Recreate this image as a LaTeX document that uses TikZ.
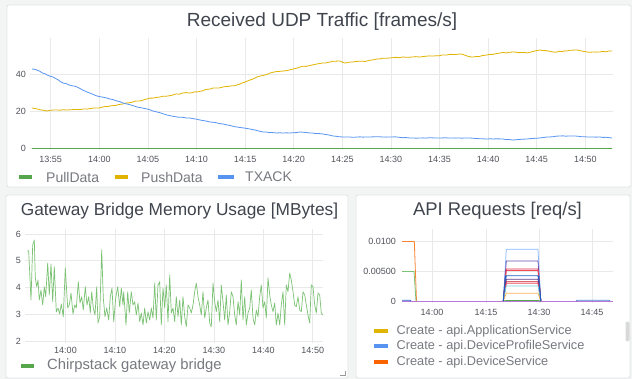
\documentclass[tikz,border=0pt]{standalone}
\usepackage{fontspec}
\setmainfont{Liberation Sans}
\usetikzlibrary{decorations.pathmorphing}
\definecolor{bgc}{HTML}{F3F4F4}
\definecolor{panelc}{HTML}{E2E3E4}
\definecolor{gridc}{HTML}{E9E9E9}
\definecolor{titlec}{HTML}{3F444D}
\definecolor{tickc}{HTML}{50535A}
\definecolor{legc}{HTML}{777A80}
\definecolor{gfgreen}{HTML}{56A64B}
\definecolor{gflgreen}{HTML}{7CC274}
\definecolor{gfyellow}{HTML}{E0B400}
\definecolor{gfblue}{HTML}{5794F2}
\definecolor{gforange}{HTML}{FA6400}
\definecolor{gfpurple}{HTML}{B877D9}
\definecolor{lblue}{HTML}{8AB8FF}
\definecolor{dpurple}{HTML}{6A4DB0}
\definecolor{gfred}{HTML}{E02F44}
\definecolor{navy}{HTML}{1F60C4}
\definecolor{ddpurple}{HTML}{5C3C8E}
\definecolor{dred}{HTML}{C4162A}
\definecolor{pinkc}{HTML}{F2495C}
\definecolor{cyanc}{HTML}{73D3E6}
\definecolor{peach}{HTML}{FFB357}
\tikzset{
  panel/.style={draw=panelc, fill=white, line width=0.8pt, rounded corners=2pt},
  grid/.style={draw=gridc, line width=0.7pt},
  ptitle/.style={text=titlec, inner sep=0pt},
  tick/.style={text=tickc, font=\fontsize{9}{10}\selectfont, inner sep=0pt},
  legtext/.style={text=legc, inner sep=0pt, anchor=west},
  swatch/.style={line width=4pt},
  series/.style={line width=0.8pt, line join=round},
}
\begin{document}
\begin{tikzpicture}[x=1pt, y=-1pt]
\fill[bgc] (0,0) rectangle (632,379);
\useasboundingbox (0,0) rectangle (632,379);
% panels
\path[panel] (7,5) rectangle (631,187);
\path[panel] (6,195) rectangle (348,378);
\path[panel] (356,195) rectangle (630,378);

% ===== Top chart =====
\node[ptitle, font=\fontsize{19}{20}\selectfont] (udptitle) at (322,22) {Received UDP Traffic [frames/s]};
\foreach \i in {0,...,11} {\draw[grid] ({50.7+48.6*\i},38) -- ({50.7+48.6*\i},150);}
\foreach \yy in {74,111.5,148.5} {\draw[grid] (30,\yy) -- (613,\yy);}
\node[tick, anchor=east] (u40) at (26,74) {40};
\node[tick, anchor=east] (u20) at (26,111.5) {20};
\node[tick, anchor=east] (u0) at (26,148.5) {0};
\foreach \lab [count=\i from 0] in {13:55,14:00,14:05,14:10,14:15,14:20,14:25,14:30,14:35,14:40,14:45,14:50}
  {\node[tick] (ux\i) at ({50.7+48.6*\i},159) {\lab};}
% series
\draw[series, gfgreen] (32,148.3) -- (612,148.3);
\pgfmathsetseed{7}
\draw[series, gfyellow, decorate, decoration={random steps, segment length=3pt, amplitude=0.45pt}]
  plot coordinates {(32,108) (37,109) (42,110) (47,111) (57,110) (67,110) (77,109.5) (87,109) (99,108) (110,106) (123,104) (133,102) (147,99) (160,97) (173,95) (183,93) (197,92) (210,89) (223,87) (237,85) (245,82) (257,77) (270,73) (283,71) (293,69) (300,67) (317,64) (330,62) (340,61) (345,63) (353,62) (367,61) (377,59) (390,58) (403,57) (413,57) (420,57) (433,56) (447,55) (460,54) (467,56) (473,57) (487,55) (500,53) (513,52) (527,53) (540,50) (553,52) (567,51) (577,50) (587,52) (600,52) (612,51)};
\draw[series, gfblue, decorate, decoration={random steps, segment length=3pt, amplitude=0.25pt}]
  plot coordinates {(32,69) (37,70) (47,75) (53,77) (63,83) (77,87) (87,92) (97,96) (107,98) (117,101) (127,104) (137,107) (147,109) (157,112) (167,115) (177,117) (190,118) (200,120) (210,122) (223,124) (237,127) (250,129) (263,132) (277,133) (290,133) (300,132) (310,133) (323,134) (333,136) (343,137) (357,137) (370,137) (383,137) (397,137) (410,138) (420,138) (437,138) (453,138) (470,138) (487,139) (503,139) (513,140) (527,139) (540,138) (547,137) (560,136) (573,136) (587,137) (600,137) (612,138)};
% legend
\draw[swatch, gfgreen] (19,177) -- (32,177);
\node[legtext, font=\fontsize{14}{15}\selectfont] (lpull) at (46,177) {PullData};
\draw[swatch, gfyellow] (115,177) -- (128,177);
\node[legtext, font=\fontsize{14}{15}\selectfont] (lpush) at (141,177) {PushData};
\draw[swatch, gfblue] (218,177) -- (234,177);
\node[legtext, font=\fontsize{14}{15}\selectfont] (ltx) at (245,177) {TXACK};

% ===== Memory chart =====
\node[ptitle, font=\fontsize{17.3}{18}\selectfont] (memtitle) at (179.5,211) {Gateway Bridge Memory Usage [MBytes]};
\foreach \i in {0,...,5} {\draw[grid] ({65.5+49.45*\i},229) -- ({65.5+49.45*\i},343);}
\foreach \v in {2,...,6} {\draw[grid] (25,{341-(\v-2)*26.75}) -- (323,{341-(\v-2)*26.75});}
\foreach \v in {2,...,6} {\node[tick, anchor=east] (m\v) at (21,{341-(\v-2)*26.75}) {\v};}
\foreach \lab [count=\i from 0] in {14:00,14:10,14:20,14:30,14:40,14:50}
  {\node[tick] (mx\i) at ({65.5+49.45*\i},350) {\lab};}
\draw[line width=0.7pt, gflgreen, line join=round] plot coordinates {
(27.7,250) (28.7,251.7) (31,300) (32.7,245) (34.3,240) (35.3,278) (36.7,286.7) (38,280) (39.3,300) (41,290) (42.7,305) (44.3,286.7) (45.7,296.7) (47.7,263) (49.3,295) (51,264) (52.7,301.7) (54.3,266.7) (56.3,312) (58,308) (59.7,314) (61.3,304) (63.3,316.7) (65.3,267.7) (67.7,308) (69.3,305) (71,293) (73,314) (74.7,305) (76.3,308) (78.3,281.7) (80,303) (81.7,296.7) (83.3,310) (85.3,286.7) (87,305) (88.7,296.7) (90.3,313) (91.7,291.7) (93.3,308) (95,315) (96.7,286.7) (98,323) (99.7,316.7) (101.7,250) (103.3,298) (105,316.7) (106.7,308) (108.7,320) (110.3,296.7) (112,288) (113.7,321.7) (115.7,298) (117.7,286.7) (119.7,306.7) (121.3,288) (123,305)
(123.7,291.7) (126,325) (127.7,291.7) (129.3,313) (131.3,291.7) (133,305) (134.7,301.7) (136.3,315) (138,303) (139.7,321.7) (141.3,313) (143,325) (144.7,308) (146.3,323) (148,311.7) (149.7,320) (151.3,308) (153,318) (154.7,283) (156.3,320) (158,285) (159.7,281.7) (161.3,325) (163,288) (164.7,308) (166.3,285) (168,321.7) (169.7,275) (171.3,313) (173,308) (174.7,321.7) (176.3,296.7) (178,316.7) (179.7,300) (181.3,325) (183,296.7) (184.7,316.7) (186.3,326.7) (188,305) (189.7,308) (191.3,313) (193,305) (194.7,291.7) (196.3,283) (198,296.7) (199.7,305) (201.3,315) (203,291.7) (204.7,318) (206.3,308) (208,300) (209.7,323) (211.3,326.7) (213,283) (214.7,301.7) (216.3,311.7) (218,300) (219.7,321.7) (221.3,285) (223.3,305)
(224.7,320) (226.3,295) (228,325) (229.7,311.7) (231.3,291.7) (233,296.7) (234.7,315) (236.3,325) (238,301.7) (239.7,315) (241.3,280) (243,320) (244.7,296.7) (246.3,325) (248,313) (249.7,308) (251.3,290) (253,318) (254.7,325) (256.3,310) (258,316.7) (259.7,296.7) (261.3,285) (263,308) (264.7,301.7) (266.3,318) (268,278) (269.7,295) (271.3,305) (273,311.7) (274.7,303) (276.3,325) (278,313) (279.7,325) (281.3,305) (283,291.7) (284.7,325) (286.3,285) (288,291.7) (289.7,273) (291.3,280) (293,291.7) (294.7,305) (296.3,306.7) (298,296.7) (299.7,310) (301.3,311.7) (303,291.7) (304.7,295) (306.3,305) (308,315) (309.7,323) (311.3,285) (313,286.7) (314.7,305) (316.3,313) (318,293) (319.7,295) (321.3,313) (323,315)};
\draw[swatch, gfgreen] (21,366) -- (34,366);
\node[legtext, font=\fontsize{14.8}{16}\selectfont] (lchirp) at (47,366) {Chirpstack gateway bridge};
\draw[line width=0.6pt, black!40] (340,375.5) -- (345,375.5) -- (345,370.5);

% ===== API chart =====
\node[ptitle, font=\fontsize{18.4}{19}\selectfont] (apititle) at (497.5,211) {API Requests [req/s]};
\foreach \xx in {432,486,539,592} {\draw[grid] (\xx,229) -- (\xx,303);}
\foreach \yy in {241.5,271.5,301} {\draw[grid] (402,\yy) -- (613,\yy);}
\node[tick, anchor=east] (a1) at (396,241.5) {0.0100};
\node[tick, anchor=east] (a2) at (396,271.5) {0.00500};
\node[tick, anchor=east] (a3) at (396,301) {0};
\foreach \lab/\xx [count=\i] in {14:00/432,14:15/486,14:30/539,14:45/592}
  {\node[tick] (ax\i) at (\xx,312) {\lab};}
% series
\draw[line width=0.8pt, gfpurple] (402,301) -- (613,301);
\draw[line width=0.8pt, gforange!80] (402,241.5) -- (414.3,241.5) -- (416.5,301);
\draw[line width=0.8pt, gflgreen] (402,271.5) -- (414,271.5) -- (416,301);
\draw[line width=0.8pt, navy] (402,300.2) -- (410,300.2) -- (411,301);
\draw[line width=0.8pt, navy!80] (576,301) -- (577,300.2) -- (609,300.2) -- (610,301);
\foreach \yy/\cc in {249.3/lblue, 261/dpurple, 269/gfred, 270.5/pinkc, 275.7/navy, 279.3/ddpurple, 281.7/dred, 283.3/pinkc, 286/cyanc, 293.3/peach, 300.5/gfgreen}
  {\draw[line width=0.75pt, \cc, line join=round] (503.3,301) -- (506.3,\yy) -- (538,\yy) -- (540.8,301);}
\draw[line width=1pt, navy] (503.3,301) -- (505.5,275.7);
\draw[line width=1pt, navy] (538.5,275.7) -- (540.8,301);
% legend
\draw[swatch, gfyellow] (374,331) -- (388,331);
\node[legtext, font=\fontsize{12.75}{14}\selectfont] (lapp) at (396.5,331) {Create - api.ApplicationService};
\draw[swatch, gfblue] (374,346.5) -- (388,346.5);
\node[legtext, font=\fontsize{12.75}{14}\selectfont] (lprof) at (396.5,346.5) {Create - api.DeviceProfileService};
\draw[swatch, gforange] (374,362) -- (388,362);
\node[legtext, font=\fontsize{12.75}{14}\selectfont] (ldev) at (396.5,362) {Create - api.DeviceService};
\fill[black!15, rounded corners=2pt] (625.5,321.5) rectangle (629.5,341.5);
\end{tikzpicture}
\end{document}
